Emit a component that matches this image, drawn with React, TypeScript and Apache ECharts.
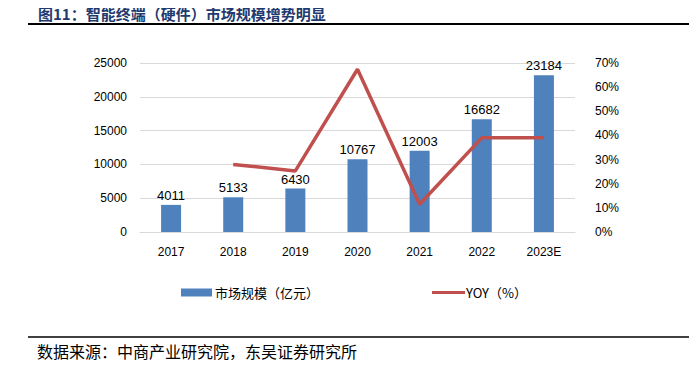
import React, { useEffect, useRef } from "react";
import * as echarts from "echarts";

const categories = ["2017", "2018", "2019", "2020", "2021", "2022", "2023E"];
const marketSize = [4011, 5133, 6430, 10767, 12003, 16682, 23184];
const yoy = [null, 28.0, 25.3, 67.4, 11.5, 39.0, 39.0];
const leftTicks = [0, 5000, 10000, 15000, 20000, 25000];
const rightTicks = [0, 10, 20, 30, 40, 50, 60, 70];

const FONT = "'Liberation Sans', 'Noto Sans CJK SC', sans-serif";

export default function App() {
  const ref = useRef<HTMLDivElement>(null);
  useEffect(() => {
    const chart = echarts.init(ref.current!, null, { renderer: "svg" });
    chart.setOption({
      animation: false,
      textStyle: { fontFamily: FONT },
      title: {
        text: "图11：智能终端（硬件）市场规模增势明显",
        left: 33,
        top: 1,
        textStyle: {
          fontFamily: "'Noto Sans CJK SC', sans-serif",
          fontSize: 15,
          fontWeight: "bold",
          color: "#1F3A6E",
        },
      },
      graphic: [
        {
          type: "line",
          shape: { x1: 28, y1: 24, x2: 697, y2: 24 },
          style: { stroke: "#000", lineWidth: 2 },
        },
        {
          type: "line",
          shape: { x1: 28, y1: 337, x2: 697, y2: 337 },
          style: { stroke: "#000", lineWidth: 1.5 },
        },
        {
          type: "text",
          left: 37,
          top: 343,
          style: {
            text: "数据来源：中商产业研究院，东吴证券研究所",
            fontFamily: "'Noto Sans CJK SC', sans-serif",
            fontSize: 16,
            fill: "#000",
          },
        },
      ],
      legend: [
        {
          data: [{ name: "市场规模（亿元）", icon: "rect" }],
          left: 176,
          top: 281,
          itemWidth: 31,
          itemHeight: 8,
          itemGap: 4,
          textStyle: { fontFamily: "'Noto Sans CJK SC', sans-serif", fontSize: 13, color: "#000", padding: [0, 0, 0, -2] },
        },
        {
          data: [{ name: "YOY（%）", icon: "rect" }],
          left: 427,
          top: 281,
          itemWidth: 33,
          itemHeight: 3,
          textStyle: { fontFamily: "'Noto Sans CJK SC', sans-serif", fontSize: 13, color: "#000", padding: [0, 0, 0, -4] },
        },
      ],
      grid: { left: 140, right: 122, top: 63, bottom: 136 },
      xAxis: {
        type: "category",
        data: categories,
        axisTick: { show: false },
        axisLine: { lineStyle: { color: "#D9D9D9" } },
        axisLabel: { color: "#000", fontSize: 12, margin: 14 },
      },
      yAxis: [
        {
          type: "value",
          min: leftTicks[0],
          max: leftTicks[leftTicks.length - 1],
          interval: 5000,
          axisLabel: { color: "#000", fontSize: 12, margin: 13, formatter: (v: number) => String(v) },
          splitLine: { lineStyle: { color: "#D9D9D9" } },
          axisLine: { show: false },
          axisTick: { show: false },
        },
        {
          type: "value",
          min: rightTicks[0],
          max: rightTicks[rightTicks.length - 1],
          interval: 10,
          position: "right",
          axisLabel: { color: "#000", fontSize: 12, margin: 20, formatter: "{value}%" },
          splitLine: { show: false },
          axisLine: { show: false },
          axisTick: { show: false },
        },
      ],
      series: [
        {
          name: "市场规模（亿元）",
          type: "bar",
          data: marketSize,
          barWidth: 20,
          itemStyle: { color: "#4F81BD" },
          label: { show: true, position: "top", color: "#000", fontSize: 13, distance: 3 },
        },
        {
          name: "YOY（%）",
          type: "line",
          yAxisIndex: 1,
          data: yoy,
          symbol: "none",
          lineStyle: { color: "#C0504D", width: 3.5 },
          itemStyle: { color: "#C0504D" },
        },
      ],
    });
    return () => chart.dispose();
  }, []);
  return <div ref={ref} style={{ width: 697, height: 368, margin: -8 }} />;
}
